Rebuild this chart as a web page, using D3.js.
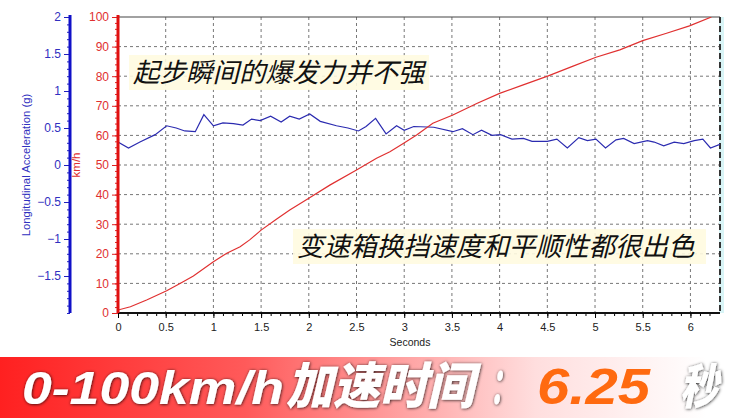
<!DOCTYPE html>
<html><head><meta charset="utf-8">
<script src="https://cdn.jsdelivr.net/npm/d3@7"></script>
<style>body{margin:0;background:#fff}svg{display:block}</style>
</head><body><svg id="c" width="744" height="418"></svg>
<script>
// ---- data ----
const accelT = [0,0.11,0.23,0.39,0.51,0.61,0.70,0.81,0.90,1.00,1.10,1.21,1.31,1.40,1.49,1.60,1.71,1.80,1.90,2.01,2.12,2.29,2.41,2.52,2.60,2.70,2.81,2.92,3.00,3.10,3.31,3.51,3.61,3.72,3.81,3.92,4.01,4.13,4.25,4.34,4.50,4.60,4.71,4.83,4.92,5.01,5.11,5.22,5.30,5.41,5.55,5.62,5.72,5.83,5.93,6.04,6.13,6.21,6.31];
const accelG = [0.31,0.23,0.31,0.41,0.53,0.50,0.46,0.45,0.68,0.53,0.57,0.56,0.54,0.62,0.60,0.66,0.58,0.66,0.62,0.69,0.59,0.53,0.50,0.46,0.52,0.63,0.42,0.53,0.47,0.52,0.51,0.45,0.49,0.41,0.47,0.40,0.41,0.35,0.36,0.32,0.32,0.35,0.23,0.37,0.33,0.35,0.23,0.34,0.36,0.29,0.33,0.31,0.26,0.31,0.29,0.33,0.35,0.23,0.28];
const speedT = [0,0.13,0.30,0.51,0.65,0.79,1.00,1.14,1.28,1.38,1.50,1.66,1.80,2.00,2.22,2.50,2.71,2.85,2.99,3.13,3.30,3.51,3.76,4.00,4.24,4.51,4.77,5.01,5.26,5.50,5.75,5.99,6.22];
const speedKmh = [1,2.1,4.4,7.5,10,12.5,17.3,20.2,22.4,24.7,28,31.7,34.8,38.8,43.2,48.3,52.3,54.5,57.3,60.1,64.1,66.9,70.8,74.2,77,80.1,83.4,86.4,88.9,92,94.5,97,100];
const xTicks = [0,0.5,1,1.5,2,2.5,3,3.5,4,4.5,5,5.5,6];
const speedTicks = [0,10,20,30,40,50,60,70,80,90,100];
const accelTicks = [-1.5,-1,-0.5,0,0.5,1,1.5,2];
const note1 = "起步瞬间的爆发力并不强";
const note2 = "变速箱换挡速度和平顺性都很出色";
const bannerParts = ["0-100km/h", "加速时间", "：", "6.25", "秒"];

// ---- layout ----
const svg = d3.select("#c");
const L = 118, R = 720, T = 17, B = 313;
const x = d3.scaleLinear().domain([0, 6.31]).range([L, R]);
const yS = d3.scaleLinear().domain([0, 100]).range([B, T]);
const yA = d3.scaleLinear().domain([-2, 2]).range([B, T]);
const font = "Liberation Sans, Arial, sans-serif";

// grid
const grid = svg.append("g").attr("stroke", "#777").attr("stroke-dasharray", "3,3").attr("stroke-width", 1);
xTicks.filter(d => d > 0).forEach(d => grid.append("line").attr("x1", x(d)).attr("x2", x(d)).attr("y1", T).attr("y2", B));
speedTicks.filter(d => d > 0 && d < 100).forEach(d => grid.append("line").attr("x1", L).attr("x2", R).attr("y1", yS(d)).attr("y2", yS(d)));

// top border & right dashed border
svg.append("line").attr("x1", L).attr("x2", R).attr("y1", T).attr("y2", T).attr("stroke", "#444").attr("stroke-width", 1.2);
svg.append("rect").attr("x", R - 1).attr("y", T).attr("width", 5).attr("height", B - T).attr("fill", "#d8f4f6");
svg.append("line").attr("x1", R).attr("x2", R).attr("y1", T).attr("y2", B).attr("stroke", "#333").attr("stroke-width", 2).attr("stroke-dasharray", "6,3");

// annotation backgrounds & text
function note(txt, x0, yb, w) {
  svg.append("rect").attr("x", x0 - 4).attr("y", yb - 27).attr("width", w).attr("height", 35).attr("fill", "#fffbe0").attr("opacity", 0.9);
  svg.append("text").attr("x", x0).attr("y", yb).text(txt)
    .attr("font-family", "Noto Sans CJK SC").attr("font-size", 26.5).attr("font-style", "italic").attr("fill", "#111");
}
note(note1, 133, 82, 300);
note(note2, 297, 256, 413);

// lines
svg.append("clipPath").attr("id", "pc").append("rect").attr("x", L).attr("y", T).attr("width", R - L).attr("height", B - T);
svg.append("path").datum(d3.zip(accelT, accelG)).attr("clip-path", "url(#pc)")
  .attr("d", d3.line().x(d => x(d[0])).y(d => yA(d[1])))
  .attr("fill", "none").attr("stroke", "#2b2bb0").attr("stroke-width", 1.2);
svg.append("path").datum(d3.zip(speedT, speedKmh)).attr("clip-path", "url(#pc)")
  .attr("d", d3.line().x(d => x(d[0])).y(d => yS(d[1])))
  .attr("fill", "none").attr("stroke", "#e03030").attr("stroke-width", 1.2);

// x axis
const xa = svg.append("g").attr("transform", `translate(0,${B})`);
xa.call(d3.axisBottom(x).tickValues(d3.range(0, 63).map(i => i / 10)).tickSize(3).tickFormat(""));
xa.call(g => g.select(".domain").remove());
xa.append("line").attr("x1", L).attr("x2", R).attr("stroke", "#111").attr("stroke-width", 2);
const xl = svg.append("g").attr("transform", `translate(0,${B})`)
  .call(d3.axisBottom(x).tickValues(xTicks).tickSize(5).tickFormat(d3.format("")));
xl.select(".domain").remove();
xl.selectAll("text").attr("font-family", font).attr("font-size", 11).attr("fill", "#222").attr("dy", "0.9em");
svg.append("text").attr("x", 410).attr("y", 346).attr("text-anchor", "middle").text("Seconds")
  .attr("font-family", font).attr("font-size", 10.5).attr("fill", "#222");

// speed axis (red)
const sa = svg.append("g").attr("transform", `translate(${L},0)`);
sa.call(d3.axisLeft(yS).tickValues(d3.range(0, 101, 2)).tickSize(3).tickFormat(""));
sa.selectAll("line").attr("stroke", "#e02020");
sa.select(".domain").remove();
const sl = svg.append("g").attr("transform", `translate(${L},0)`)
  .call(d3.axisLeft(yS).tickValues(speedTicks).tickSize(6).tickFormat(d3.format("")));
sl.select(".domain").remove();
sl.selectAll("line").attr("stroke", "#e02020");
sl.selectAll("text").attr("font-family", font).attr("font-size", 12).attr("fill", "#e03030");
svg.append("line").attr("x1", L).attr("x2", L).attr("y1", T - 2).attr("y2", B).attr("stroke", "#e01010").attr("stroke-width", 3);
svg.append("text").attr("transform", "translate(80,165) rotate(-90)").attr("text-anchor", "middle").text("km/h")
  .attr("font-family", font).attr("font-size", 11.5).attr("fill", "#e03030");

// accel axis (blue)
const AX = 70;
const aa = svg.append("g").attr("transform", `translate(${AX},0)`);
aa.call(d3.axisLeft(yA).tickValues(d3.range(-20, 21).map(i => i / 10)).tickSize(3).tickFormat(""));
aa.select(".domain").remove();
aa.selectAll("line").attr("stroke", "#2020c0");
const al = svg.append("g").attr("transform", `translate(${AX},0)`)
  .call(d3.axisLeft(yA).tickValues(accelTicks).tickSize(6).tickFormat(d3.format("")));
al.select(".domain").remove();
al.selectAll("line").attr("stroke", "#2020c0");
al.selectAll("text").attr("font-family", font).attr("font-size", 12).attr("fill", "#3030c0");
svg.append("line").attr("x1", AX).attr("x2", AX).attr("y1", T - 2).attr("y2", B).attr("stroke", "#1010c8").attr("stroke-width", 3);
svg.append("text").attr("transform", "translate(30,165) rotate(-90)").attr("text-anchor", "middle").text("Longitudinal Acceleration (g)")
  .attr("font-family", font).attr("font-size", 11.3).attr("fill", "#3030c0");

// banner
const defs = svg.append("defs");
const gr = defs.append("linearGradient").attr("id", "bg").attr("x1", "0").attr("x2", "1");
gr.append("stop").attr("offset", "0").attr("stop-color", "#ff2020");
gr.append("stop").attr("offset", "0.33").attr("stop-color", "#ff5a5a");
gr.append("stop").attr("offset", "0.72").attr("stop-color", "#ffdede");
gr.append("stop").attr("offset", "0.95").attr("stop-color", "#ffffff");
const f = defs.append("filter").attr("id", "sh").attr("x", "-5%").attr("y", "-20%").attr("width", "110%").attr("height", "140%");
f.append("feDropShadow").attr("dx", 0.5).attr("dy", 0.5).attr("stdDeviation", 1.6).attr("flood-color", "#000").attr("flood-opacity", 0.85);
svg.append("rect").attr("x", 0).attr("y", 357).attr("width", 744).attr("height", 61).attr("fill", "url(#bg)");
const bf = "Liberation Sans, Arial, Noto Sans CJK SC, sans-serif";
// [x, textLength, fontSize, fill, shadow]
const bannerPos = [[22, 262, 46, "#fff", true], [286, 188, 50, "#fff", true], [490, 26, 50, "#fff", true], [537, 113, 50, "#ff6a10", false], [680, 38, 48, "#fff", true]];
bannerParts.forEach((s, i) => {
  const p = bannerPos[i];
  const t = svg.append("text").attr("x", p[0]).attr("y", 404).text(s)
    .attr("font-family", bf).attr("font-size", p[2]).attr("font-weight", "900").attr("font-style", "italic")
    .attr("fill", p[3]).attr("textLength", p[1]).attr("lengthAdjust", "spacingAndGlyphs");
  if (p[4]) t.attr("filter", "url(#sh)");
});
</script></body></html>
